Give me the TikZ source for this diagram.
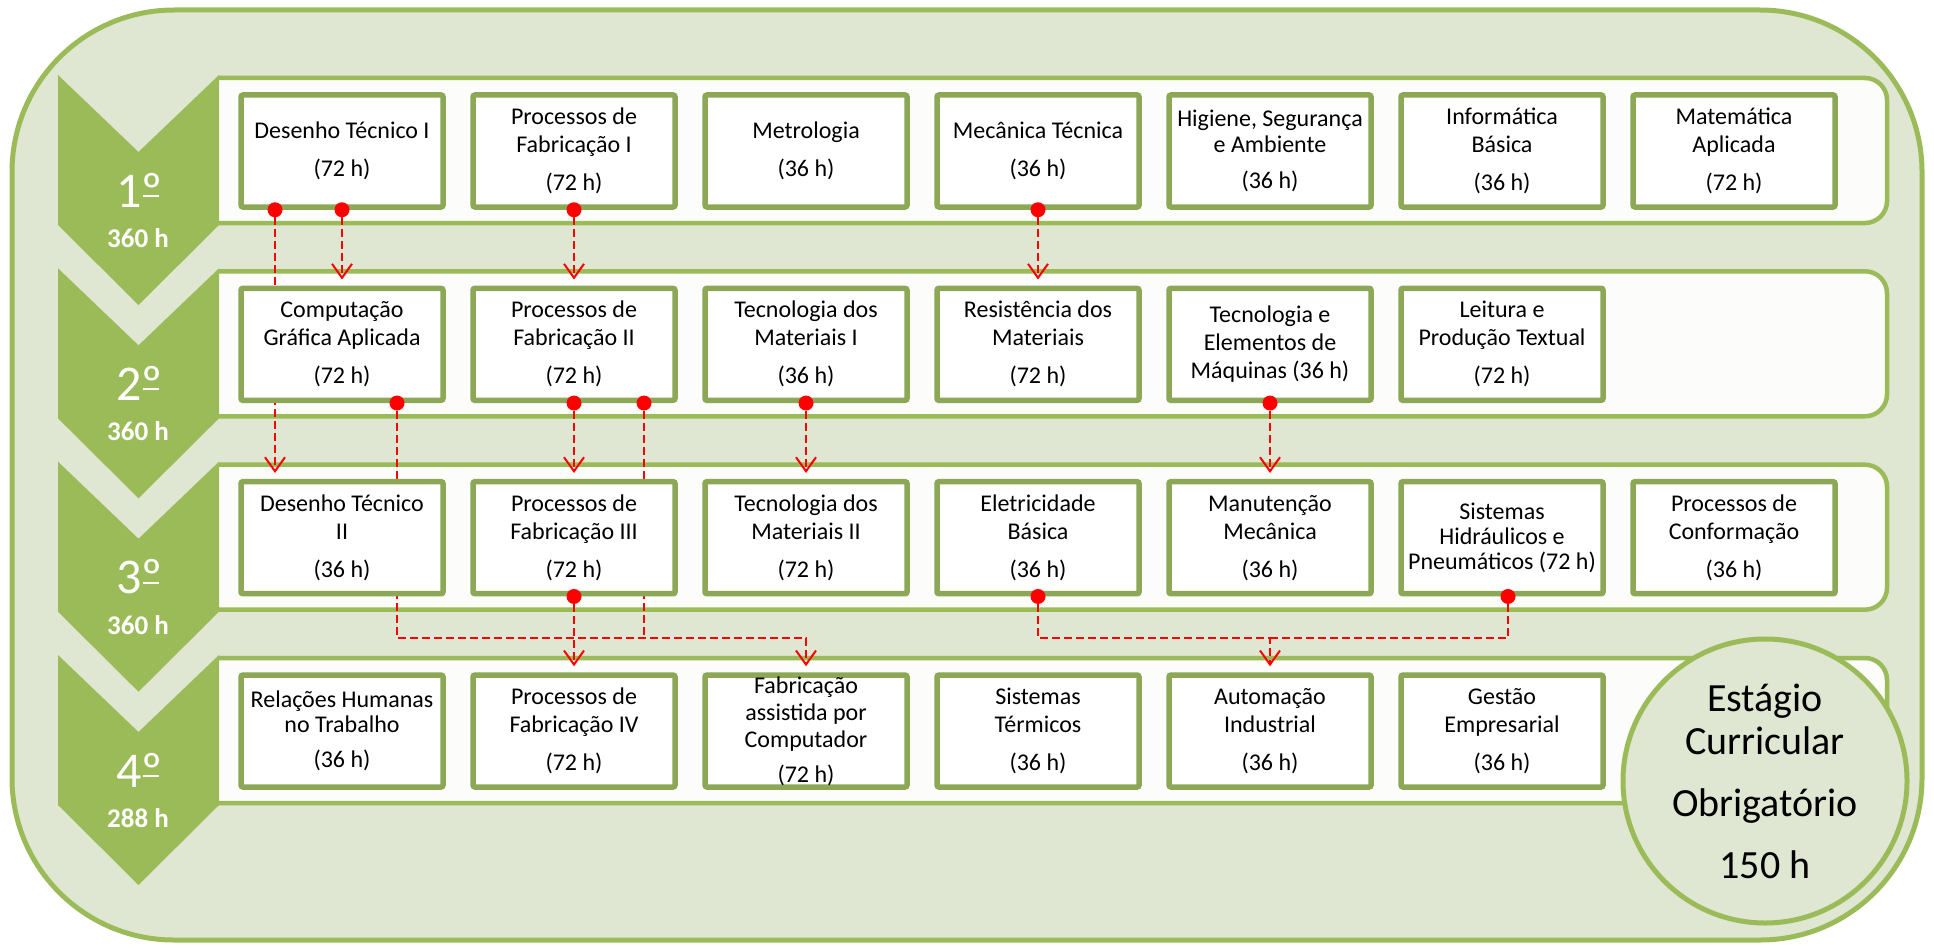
\documentclass[tikz,border=0pt]{standalone}
\usepackage{fontspec}
\setmainfont{Carlito}
\usetikzlibrary{arrows.meta,positioning,calc}
\definecolor{gradeBg}{RGB}{223,230,209}
\definecolor{gradeOlive}{RGB}{155,187,89}
\definecolor{gradeBox}{RGB}{140,167,86}
\definecolor{gradeLane}{RGB}{252,253,250}
\definecolor{gradeRed}{RGB}{255,0,0}
\newcommand{\ordline}{\rlap{º}\kern0.03em\rule[0.2em]{0.32em}{0.04em}}
\pgfdeclarelayer{bg}
\pgfdeclarelayer{links}
\pgfdeclarelayer{top}
\pgfsetlayers{bg,links,main,top}

\begin{document}
\begin{tikzpicture}[
    x=1pt, y=-1pt,
    lane/.style={draw=gradeOlive, fill=gradeLane, line width=4.5pt, rounded corners=22pt},
    chevron/.style={fill=gradeOlive},
    box/.style={rectangle, rounded corners=2pt, draw=gradeBox, fill=white, line width=5.5pt,
                minimum width=202pt, minimum height=112pt, inner xsep=2pt,
                align=center, font=\fontsize{24}{28}\selectfont},
    semnum/.style={text=white, font=\fontsize{50}{50}\selectfont},
    semhrs/.style={text=white, font=\fontsize{27}{27}\selectfont\bfseries},
    startdot/.style={circle, fill=gradeRed, inner sep=0pt, minimum size=15pt},
    link/.style={draw=gradeRed, line width=2pt, dash pattern=on 8pt off 4pt},
    linkarrow/.style={-{Straight Barb[length=14pt,width=20pt]}, shorten >=6pt}
  ]
  \useasboundingbox (0,0) rectangle (1934,947);

  \begin{pgfonlayer}{bg}
    \draw[draw=gradeOlive, fill=gradeBg, line width=5pt, rounded corners=162pt] (12,10) rectangle (1922,940);
    \path[lane] (219,78) -- (1887,78) -- (1887,223) -- (219,223);
    \path[lane] (219,271.3) -- (1887,271.3) -- (1887,416.3) -- (219,416.3);
    \path[lane] (219,464.7) -- (1887,464.7) -- (1887,609.7) -- (219,609.7);
    \path[lane] (219,658) -- (1887,658) -- (1887,803) -- (219,803);
    \path[chevron] (58,75) -- (138.5,152) -- (219,75) -- (219,225) -- (138.5,305) -- (58,225) -- cycle;
    \path[chevron] (58,268.3) -- (138.5,345.3) -- (219,268.3) -- (219,418.3) -- (138.5,498.3) -- (58,418.3) -- cycle;
    \path[chevron] (58,461.7) -- (138.5,538.7) -- (219,461.7) -- (219,611.7) -- (138.5,691.7) -- (58,611.7) -- cycle;
    \path[chevron] (58,655) -- (138.5,732) -- (219,655) -- (219,805) -- (138.5,885) -- (58,805) -- cycle;
  \end{pgfonlayer}

  \node[semnum] (s1) at (138,190) {1\ordline};
  \node[semhrs] (h1) at (138,238) {360 h};
  \node[semnum] (s2) at (138,383.3) {2\ordline};
  \node[semhrs] (h2) at (138,431.3) {360 h};
  \node[semnum] (s3) at (138,576.7) {3\ordline};
  \node[semhrs] (h3) at (138,624.7) {360 h};
  \node[semnum] (s4) at (138,770) {4\ordline};
  \node[semhrs] (h4) at (138,818) {288 h};

  \node[box] (dt1) at (342,151) {Desenho Técnico I\\[10pt](72 h)};
  \node[box] (pf1) at (574,151) {Processos de\\Fabricação I\\[10pt](72 h)};
  \node[box] (met) at (806,151) {Metrologia\\[10pt](36 h)};
  \node[box] (mt)  at (1038,151) {Mecânica Técnica\\[10pt](36 h)};
  \node[box, font=\fontsize{24}{26}\selectfont] (hsa) at (1270,151) {Higiene, Segurança\\e Ambiente\\[10pt](36 h)};
  \node[box] (ib)  at (1502,151) {Informática\\Básica\\[10pt](36 h)};
  \node[box] (ma)  at (1734,151) {Matemática\\Aplicada\\[10pt](72 h)};

  \node[box] (cga) at (342,344.3) {Computação\\Gráfica Aplicada\\[10pt](72 h)};
  \node[box] (pf2) at (574,344.3) {Processos de\\Fabricação II\\[10pt](72 h)};
  \node[box] (tm1) at (806,344.3) {Tecnologia dos\\Materiais I\\[10pt](36 h)};
  \node[box] (rm)  at (1038,344.3) {Resistência dos\\Materiais\\[10pt](72 h)};
  \node[box] (tem) at (1270,344.3) {Tecnologia e\\Elementos de\\Máquinas (36 h)};
  \node[box] (lpt) at (1502,344.3) {Leitura e\\Produção Textual\\[10pt](72 h)};

  \node[box] (dt2) at (342,537.7) {Desenho Técnico\\II\\[10pt](36 h)};
  \node[box] (pf3) at (574,537.7) {Processos de\\Fabricação III\\[10pt](72 h)};
  \node[box] (tm2) at (806,537.7) {Tecnologia dos\\Materiais II\\[10pt](72 h)};
  \node[box] (eb)  at (1038,537.7) {Eletricidade\\Básica\\[10pt](36 h)};
  \node[box] (mm)  at (1270,537.7) {Manutenção\\Mecânica\\[10pt](36 h)};
  \node[box, font=\fontsize{24}{25}\selectfont] (shp) at (1502,537.7) {Sistemas\\Hidráulicos e\\Pneumáticos (72 h)};
  \node[box] (pc)  at (1734,537.7) {Processos de\\Conformação\\[10pt](36 h)};

  \node[box, font=\fontsize{24}{25}\selectfont] (rht) at (342,731) {Relações Humanas\\no Trabalho\\[10pt](36 h)};
  \node[box] (pf4) at (574,731) {Processos de\\Fabricação IV\\[10pt](72 h)};
  \node[box, inner ysep=0pt, font=\fontsize{24}{27}\selectfont] (fac) at (806,731) {Fabricação\\assistida por\\Computador\\[8pt](72 h)};
  \node[box] (st)  at (1038,731) {Sistemas\\Térmicos\\[10pt](36 h)};
  \node[box] (ai)  at (1270,731) {Automação\\Industrial\\[10pt](36 h)};
  \node[box] (ge)  at (1502,731) {Gestão\\Empresarial\\[10pt](36 h)};

  \node[circle, draw=gradeOlive, fill=gradeBg, line width=5pt, minimum size=284pt, inner sep=0pt,
        align=center, font=\fontsize{40}{43}\selectfont] (estagio) at (1765,781)
        {Estágio\\Curricular\\[19pt]Obrigatório\\[19pt]150 h};

  \begin{pgfonlayer}{top}
    \node[startdot] (sDT1a) at ([xshift=-67pt]dt1.south) {};
    \node[startdot] (sDT1b) at (dt1.south) {};
    \node[startdot] (sPF1)  at (pf1.south) {};
    \node[startdot] (sMT)   at (mt.south) {};
    \node[startdot] (sCGA)  at ([xshift=55pt]cga.south) {};
    \node[startdot] (sPF2a) at (pf2.south) {};
    \node[startdot] (sPF2b) at ([xshift=70pt]pf2.south) {};
    \node[startdot] (sTM1)  at (tm1.south) {};
    \node[startdot] (sTEM)  at (tem.south) {};
    \node[startdot] (sPF3)  at (pf3.south) {};
    \node[startdot] (sEB)   at (eb.south) {};
    \node[startdot] (sSHP)  at ([xshift=6pt]shp.south) {};
  \end{pgfonlayer}

  \coordinate (busL) at (806,638);
  \coordinate (busR) at (1270,638);

  \begin{pgfonlayer}{links}
    \draw[link, linkarrow] (sDT1a) -- (sDT1a |- dt2.north);
    \draw[link, linkarrow] (sDT1b) -- (sDT1b |- cga.north);
    \draw[link, linkarrow] (sPF1) -- (sPF1 |- pf2.north);
    \draw[link, linkarrow] (sMT) -- (sMT |- rm.north);
    \draw[link, linkarrow] (sPF2a) -- (sPF2a |- pf3.north);
    \draw[link, linkarrow] (sTM1) -- (sTM1 |- tm2.north);
    \draw[link, linkarrow] (sTEM) -- (sTEM |- mm.north);
    \draw[link, linkarrow] (sPF3) -- (sPF3 |- pf4.north);
    \draw[link, linkarrow] (sCGA) |- (busL) -- (busL |- fac.north);
    \draw[link] (sPF2b) -- (sPF2b |- busL);
    \draw[link, linkarrow] (sEB) |- (busR) -- (busR |- ai.north);
    \draw[link] (sSHP) |- (busR);
  \end{pgfonlayer}
\end{tikzpicture}
\end{document}
